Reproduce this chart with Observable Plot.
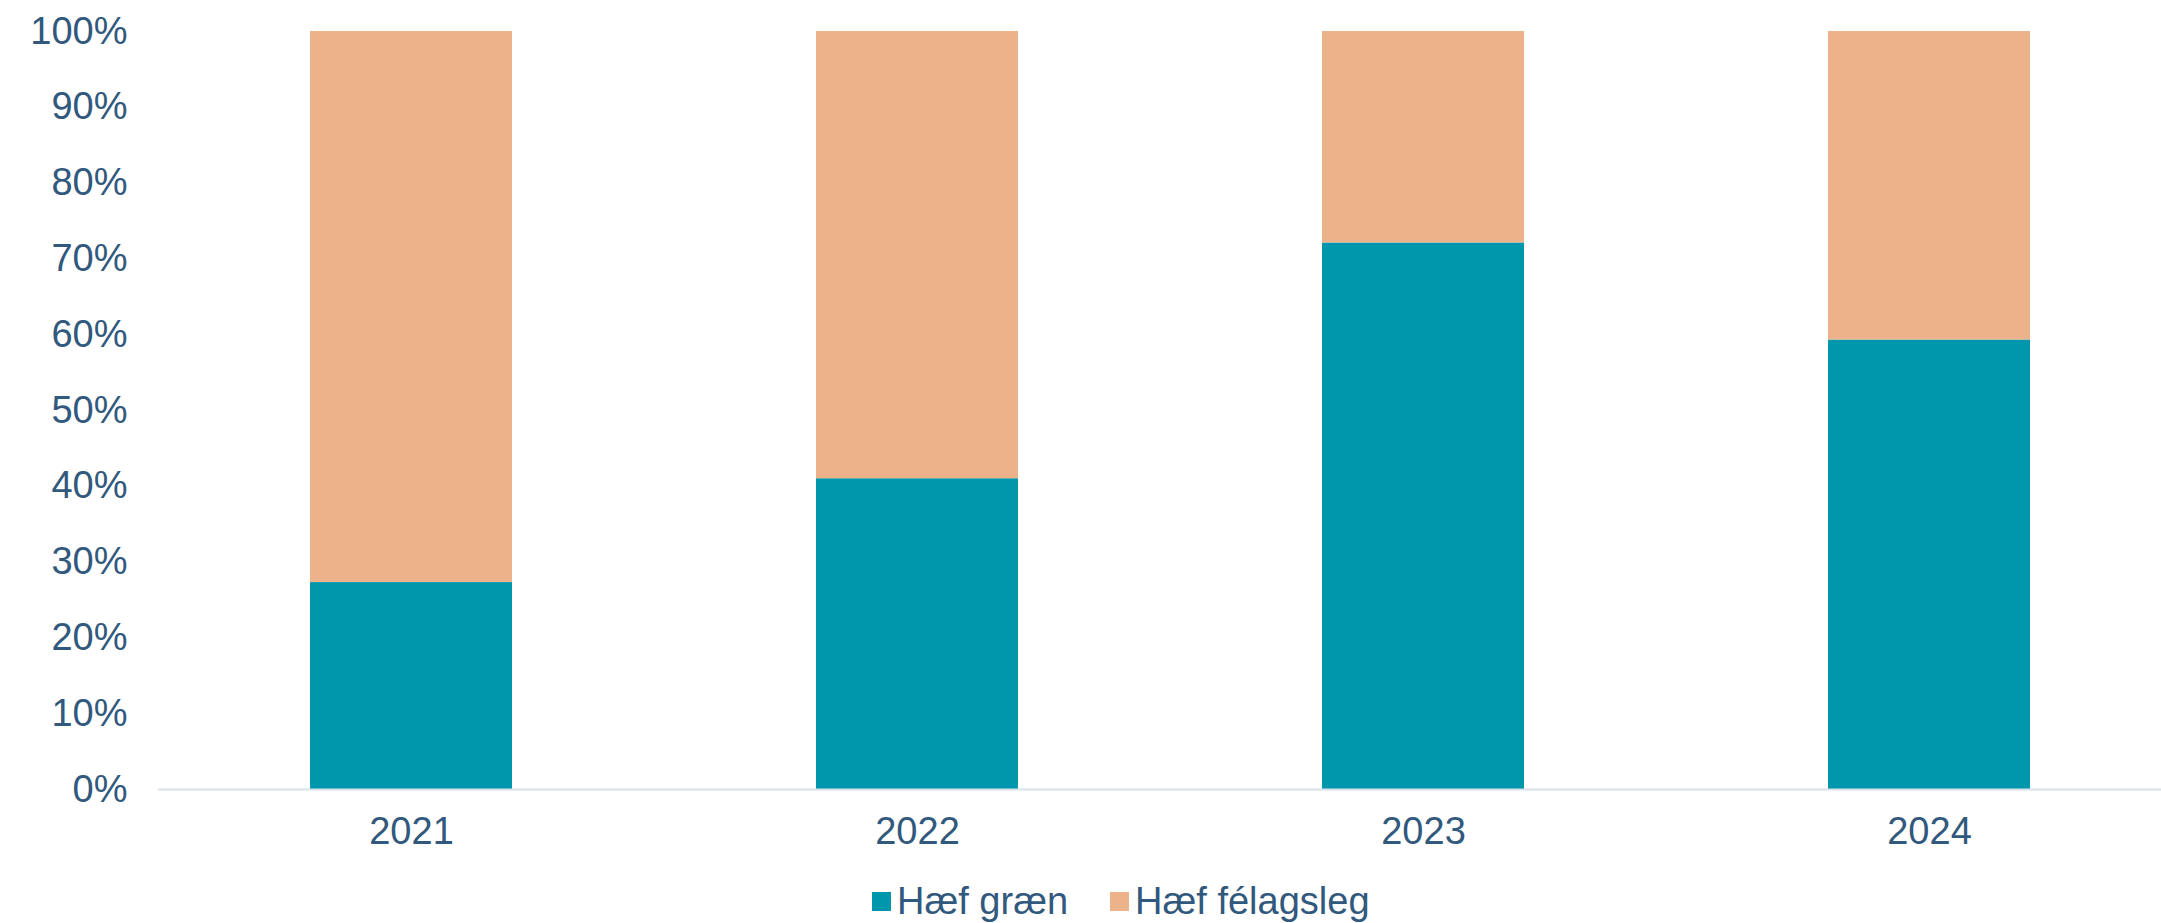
<!DOCTYPE html>
<html>
<head>
<meta charset="utf-8">
<script src="https://cdn.jsdelivr.net/npm/d3@7"></script>
<script src="https://cdn.jsdelivr.net/npm/@observablehq/plot@0.6"></script>
<style>
  html, body { margin: 0; padding: 0; background: #fff; overflow: hidden; }
  body { font-family: "Liberation Sans", Arial, sans-serif; color: #31587D; }
  #legend { display: flex; align-items: center; height: 62px; margin-left: 872px; font-size: 38px; }
  .item { display: flex; align-items: center; margin-right: 42px; }
  .sw { width: 19px; height: 19px; margin-right: 6px; }
</style>
</head>
<body>
<div id="chart"></div>
<div id="legend"></div>
<script>
const years = ["2021", "2022", "2023", "2024"];
const series = ["Hæf græn", "Hæf félagsleg"];
const haefGraen = [27.3, 41.0, 72.1, 59.3];
const haefFelagsleg = [72.7, 59.0, 27.9, 40.7];
const colors = ["#0097AC", "#ECB38A"];
const yTicks = [0, 10, 20, 30, 40, 50, 60, 70, 80, 90, 100];

const data = years.flatMap((y, i) => [
  {year: y, series: series[0], value: haefGraen[i]},
  {year: y, series: series[1], value: haefFelagsleg[i]}
]);

const chart = Plot.plot({
  width: 2161,
  height: 870,
  marginLeft: 158,
  marginRight: 0,
  marginTop: 31,
  marginBottom: 81,
  style: {fontFamily: "'Liberation Sans', Arial, sans-serif", fontSize: "38px", color: "#31587D", background: "#fff"},
  x: {domain: years, range: [158, 2182], paddingInner: 0.6, paddingOuter: 0.3, label: null},
  y: {domain: [0, 100], label: null},
  color: {domain: series, range: colors},
  marks: [
    Plot.barY(data, {x: "year", y: "value", fill: "series", order: series}),
    Plot.ruleY([0], {stroke: "#D9E2EC", strokeWidth: 2}),
    Plot.axisY({ticks: yTicks, tickFormat: d => d + "%", tickSize: 0, tickPadding: 31, fontSize: 38, label: null}),
    Plot.axisX({tickSize: 0, tickPadding: 28, fontSize: 38, label: null})
  ]
});
document.getElementById("chart").appendChild(chart);

const legend = document.getElementById("legend");
series.forEach((s, i) => {
  const it = document.createElement("div");
  it.className = "item";
  const sw = document.createElement("span");
  sw.className = "sw";
  sw.style.background = colors[i];
  const t = document.createElement("span");
  t.textContent = s;
  it.appendChild(sw);
  it.appendChild(t);
  legend.appendChild(it);
});
</script>
</body>
</html>
